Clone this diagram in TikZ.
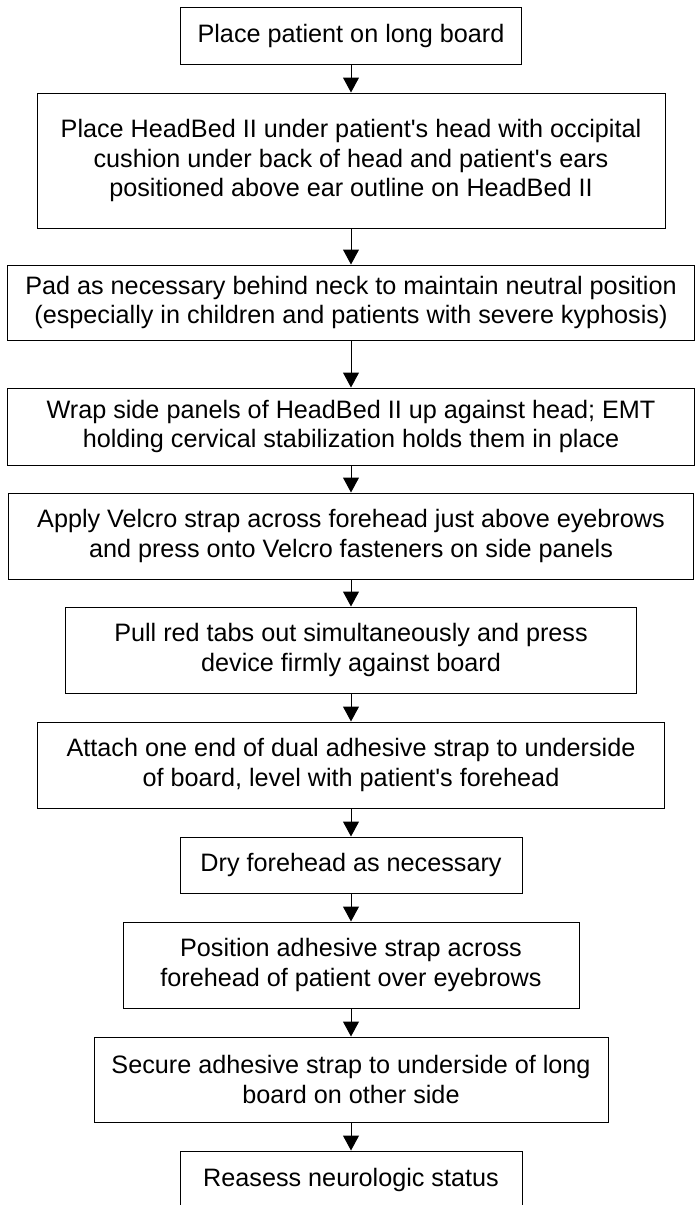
\documentclass[tikz,border=0pt]{standalone}
\usepackage{fontspec}
\setmainfont{Liberation Sans}
\usetikzlibrary{arrows.meta}
\newcommand{\apos}{\textquotesingle}
\begin{document}
\begin{tikzpicture}[x=1pt,y=-1pt,
  stepbox/.style={draw, line width=1pt, inner sep=0pt, align=center,
    font=\fontsize{25.2}{29.5}\selectfont},
  flow/.style={-{Triangle[length=15pt,width=16pt]}, line width=1pt}]
\useasboundingbox (0,0) rectangle (695,1205);
\node[stepbox, minimum width=341pt, minimum height=57pt] (n1) at (351,35.5) {Place patient on long board};
\node[stepbox, minimum width=628pt, minimum height=135pt] (n2) at (351,160.5) {Place HeadBed II under patient\apos s head with occipital\\cushion under back of head and patient\apos s ears\\positioned above ear outline on HeadBed II};
\node[stepbox, minimum width=687pt, minimum height=75pt] (n3) at (351,302.5) {Pad as necessary behind neck to maintain neutral position\\(especially in children and patients with severe kyphosis)};
\node[stepbox, minimum width=687pt, minimum height=77pt] (n4) at (351,426.5) {Wrap side panels of HeadBed II up against head; EMT\\holding cervical stabilization holds them in place};
\node[stepbox, minimum width=685pt, minimum height=86pt] (n5) at (351,536) {Apply Velcro strap across forehead just above eyebrows\\and press onto Velcro fasteners on side panels};
\node[stepbox, minimum width=571pt, minimum height=86pt] (n6) at (351,650) {Pull red tabs out simultaneously and press\\device firmly against board};
\node[stepbox, minimum width=627pt, minimum height=86pt] (n7) at (351,765) {Attach one end of dual adhesive strap to underside\\of board, level with patient\apos s forehead};
\node[stepbox, minimum width=342pt, minimum height=56pt] (n8) at (351,865) {Dry forehead as necessary};
\node[stepbox, minimum width=456pt, minimum height=86pt] (n9) at (351,965) {Position adhesive strap across\\forehead of patient over eyebrows};
\node[stepbox, minimum width=514pt, minimum height=85pt] (n10) at (351,1079.5) {Secure adhesive strap to underside of long\\board on other side};
\node[stepbox, minimum width=342pt, minimum height=57pt] (n11) at (351,1179.5) {Reasess neurologic status};
\draw[flow] (n1) -- (n2);
\draw[flow] (n2) -- (n3);
\draw[flow] (n3) -- (n4);
\draw[flow] (n4) -- (n5);
\draw[flow] (n5) -- (n6);
\draw[flow] (n6) -- (n7);
\draw[flow] (n7) -- (n8);
\draw[flow] (n8) -- (n9);
\draw[flow] (n9) -- (n10);
\draw[flow] (n10) -- (n11);
\end{tikzpicture}
\end{document}
